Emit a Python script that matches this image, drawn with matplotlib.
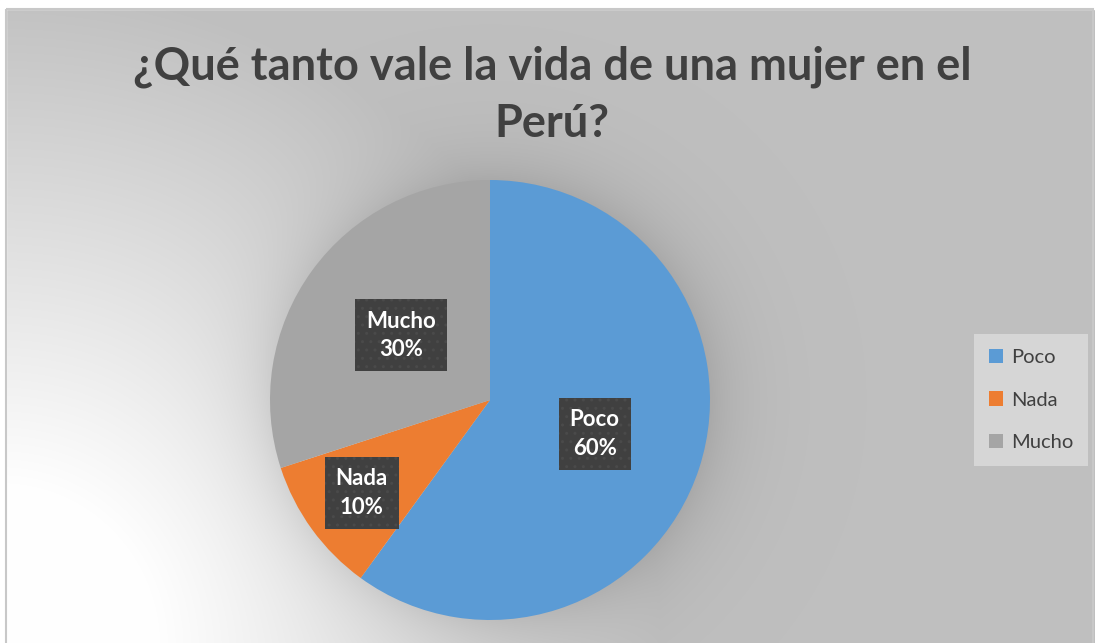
import numpy as np
import matplotlib
matplotlib.use('Agg')
import matplotlib.pyplot as plt
from matplotlib.patches import Patch, Rectangle

labels = ['Poco', 'Nada', 'Mucho']
values = [60, 10, 30]
colors = ['#5B9BD5', '#ED7D31', '#A5A5A5']
label_dist = [0.5, 0.72, 0.5]
title = '¿Qué tanto vale la vida de una mujer en el\nPerú?'

plt.rcParams['font.family'] = ['Lato', 'DejaVu Sans']

W, H = 1095, 643
fig = plt.figure(figsize=(W / 100, H / 100), dpi=100)
fig.patch.set_facecolor('white')

# background: radial gradient from bottom-left + soft halo round the pie
bg = fig.add_axes([0, 0, 1, 1])
yy, xx = np.mgrid[0:H, 0:W]
d = np.hypot(xx - 0, yy - H) / np.hypot(W, H)
shade = 1.0 - 0.25 * np.clip((d - 0.12) / 0.4, 0, 1)
r = np.hypot(xx - 490, yy - 400)
halo = np.exp(-np.clip(r - 218, 0, None) / 35.0) * (r > 200)
shade = shade - 0.09 * halo
shade = np.clip(shade, 0, 1)
img = np.dstack([shade] * 3)
bg.imshow(img, extent=(0, W, H, 0), interpolation='bilinear')
bg.add_patch(Rectangle((0, 0), W, 9, color='white', zorder=2))
bg.add_patch(Rectangle((0, 0), 6, H, color='white', zorder=2))
bg.add_patch(Rectangle((6, 9), 1087, H, fill=False, edgecolor='#c8c8c8', lw=1.5, zorder=3))
bg.set_xlim(0, W)
bg.set_ylim(H, 0)
bg.axis('off')

ax = fig.add_axes([270 / W, 23 / H, 440 / W, 440 / H])
wedges, _ = ax.pie(values, colors=colors, startangle=90, counterclock=False,
                   radius=1, wedgeprops=dict(linewidth=0))
ax.set_xlim(-1, 1)
ax.set_ylim(-1, 1)
ax.set_aspect('equal')

for w, lab, v, dist in zip(wedges, labels, values, label_dist):
    ang = np.deg2rad((w.theta1 + w.theta2) / 2)
    x, y = dist * np.cos(ang), dist * np.sin(ang)
    ax.text(x, y, f'{lab}\n{v}%', ha='center', va='center', color='white',
            fontsize=16, fontweight='bold', linespacing=1.45,
            bbox=dict(boxstyle='square,pad=0.5', facecolor='#404040',
                      edgecolor='#4a4a4a', hatch='..', linewidth=0))

fig.text(552 / W, 1 - 95 / H, title, ha='center', va='center', fontsize=32.5,
         fontweight='bold', color='#404040', linespacing=1.45, multialignment='center')

handles = [Patch(facecolor=c, edgecolor='none') for c in colors]
leg = fig.legend(handles, labels, loc='center', bbox_to_anchor=(1031 / W, 1 - 400 / H),
                 frameon=True, fontsize=14.5, labelcolor='#404040', handlelength=0.7,
                 handleheight=0.7, handletextpad=0.4, labelspacing=1.25,
                 borderpad=0.75, borderaxespad=0, fancybox=False)
leg.get_frame().set_facecolor('#d6d6d6')
leg.get_frame().set_edgecolor('none')
leg.get_frame().set_alpha(1)

fig.savefig('out.png', dpi=100)
